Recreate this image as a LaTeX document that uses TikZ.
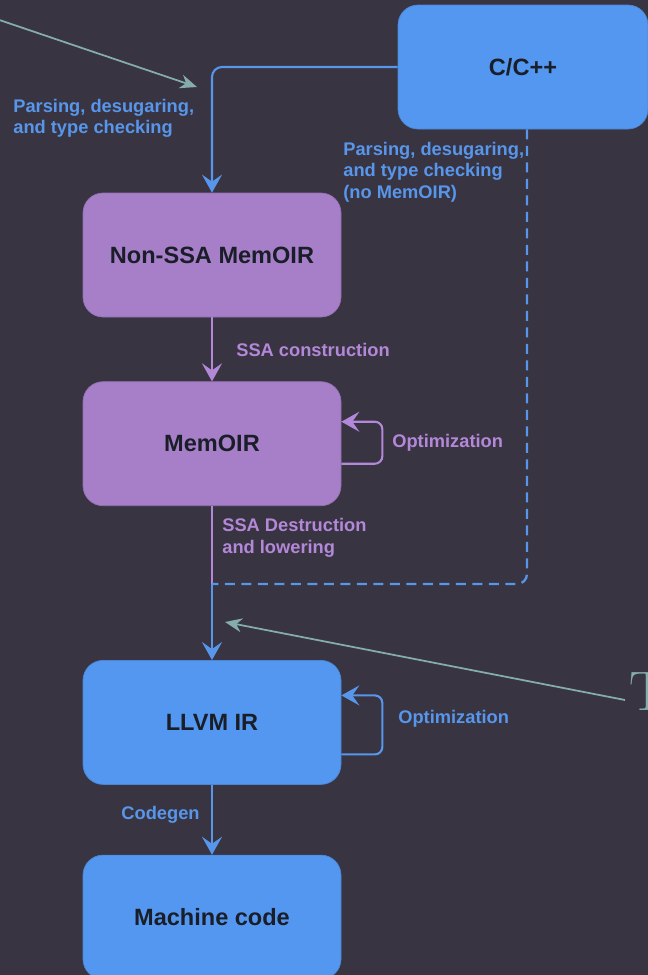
\documentclass[tikz,border=0pt]{standalone}
\usepackage{fontspec}
\setsansfont{Liberation Sans}
\usetikzlibrary{positioning,arrows.meta}
\definecolor{bgdark}{RGB}{56,52,65}
\definecolor{irblue}{RGB}{84,151,240}
\definecolor{irpurple}{RGB}{167,127,201}
\definecolor{lblblue}{RGB}{88,150,235}
\definecolor{lblpurple}{RGB}{180,136,216}
\definecolor{notecol}{RGB}{133,173,172}
\definecolor{boxtext}{RGB}{26,30,40}
\tikzset{
  irb/.style={rectangle, rounded corners=4mm, minimum width=5.16cm, minimum height=2.48cm, text centered, draw=irblue!88!black, fill=irblue, text=boxtext, font=\sffamily\bfseries\fontsize{13.4}{16}\selectfont},
  irp/.style={irb, draw=irpurple!88!black, fill=irpurple},
  lb/.style={align=left, text=lblblue, font=\sffamily\bfseries\fontsize{10.4}{12.3}\selectfont, inner sep=0pt},
  lp/.style={lb, text=lblpurple},
  fb/.style={draw=lblblue, line width=1.2pt, -{Stealth[length=3.6mm,width=4mm,inset=1.4mm]}},
  fp/.style={fb, draw=lblpurple},
  nt/.style={draw=notecol, line width=1pt, -{Stealth[length=3.4mm,width=2.8mm]}},
  node distance=1.28cm
}
\begin{document}
\begin{tikzpicture}
	\fill[bgdark] (0,0) rectangle (12.96,-19.5);
	\useasboundingbox (0,0) rectangle (12.96,-19.5);
	\node[irb, minimum width=5cm] (cpp) at (10.46,-1.34) {C/C++};
	\node[irp] (nonssa) at (4.24,-5.10) {Non-SSA MemOIR};
	\node[irp, below=of nonssa] (memoir) {MemOIR};
	\node[irb, below=3.08cm of memoir] (llvm) {LLVM IR};
	\node[irb, below=1.4cm of llvm] (mcode) {Machine code};
	\coordinate[below=1.56cm of memoir] (merge);
	%
	\node[lb, anchor=west] (parse) at (0.26,-2.37) {Parsing, desugaring,\\and type checking};
	\node[lb, anchor=west] (parsenomem) at (6.86,-3.44) {Parsing, desugaring,\\and type checking\\(no MemOIR)};
	\node[lp, anchor=west] (ssacons) at (4.72,-7.0) {SSA construction};
	\node[lp, anchor=west] (optmem) at (7.84,-8.86) {Optimization};
	\node[lp, anchor=west] (ssadest) at (4.44,-10.75) {SSA Destruction\\and lowering};
	\node[lb, anchor=west] (optllvm) at (7.96,-14.38) {Optimization};
	\node[lb, anchor=east] (codegen) at (4.0,-16.3) {Codegen};
	%
	\draw[fb, rounded corners=2mm] (cpp.west) -| (nonssa.north);
	\draw[fp] (nonssa) -- (memoir);
	\draw[fp, rounded corners=1.5mm] ([yshift=-4mm]memoir.east) -- ++(0.82,0) |- ([yshift=4.4mm]memoir.east);
	\draw[draw=lblpurple, line width=1.2pt] (memoir) -- (merge);
	\draw[draw=lblblue, line width=1.3pt, dash pattern=on 2mm off 1.3mm, rounded corners=2mm] ([xshift=0.8mm]cpp.south) |- (merge);
	\draw[fb] (merge) -- (llvm);
	\draw[fb, rounded corners=1.5mm] ([yshift=-6.4mm]llvm.east) -- ++(0.82,0) |- ([yshift=5.4mm]llvm.east);
	\draw[fb] (llvm) -- (mcode);
	%
	\coordinate (lnote) at (-0.1,-0.37);
	\coordinate (ltip) at (3.94,-1.74);
	\draw[nt] (lnote) -- (ltip);
	\node[text=notecol, font=\fontsize{31.7}{36}\selectfont, inner sep=0pt, anchor=base west] (tnote) at (12.58,-14.2) {T};
	\coordinate (rtip) at (4.5,-12.44);
	\draw[nt] ([shift={(-0.08,0.2)}]tnote.base west) -- (rtip);
\end{tikzpicture}
\end{document}
